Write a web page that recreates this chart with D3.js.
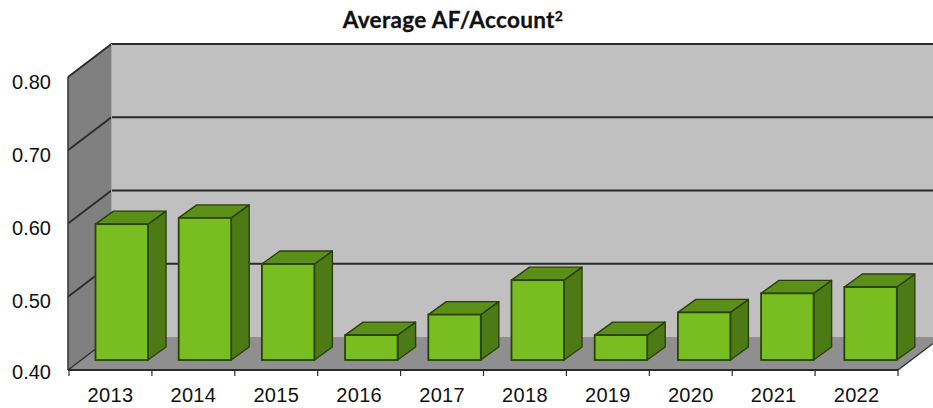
<!DOCTYPE html>
<html><head><meta charset="utf-8">
<script src="https://cdn.jsdelivr.net/npm/d3@7/dist/d3.min.js"></script>
<style>html,body{margin:0;padding:0;background:#fff;overflow:hidden}svg{display:block}</style>
</head><body><svg id="c" width="933" height="408"></svg>
<script>
const categories = ["2013","2014","2015","2016","2017","2018","2019","2020","2021","2022"];
const values = [0.5855,0.594,0.531,0.434,0.462,0.509,0.434,0.465,0.491,0.4996];
const yTicks = [0.40,0.50,0.60,0.70,0.80];
const titleText = "Average AF/Account";

const svg = d3.select("#c");
const x = d3.scaleBand().domain(categories).range([69,898]).paddingInner(0).paddingOuter(0);
const xBars = d3.scaleBand().domain(categories).range([68,900]).paddingInner(0).paddingOuter(0);
const y = d3.scaleLinear().domain([0.4,0.8]).range([370,77]);
const depthX = 43.5, depthY = -33;         // whole-chart depth
const barOff = [12.15,-10], barDepth = [18,-13], barW = 52.5;
const barInset = (xBars.bandwidth()-barW)/2;
const yFloor = y(0.4);
const pts = a => a.map(p=>p.join(",")).join(" ");

// back wall, side wall, floor
const xL = x.range()[0]-1, xR = x.range()[1];
svg.append("polygon").attr("points",pts([[xL+depthX,y(0.8)+depthY],[xR+depthX,y(0.8)+depthY],[xR+depthX,yFloor+depthY],[xL+depthX,yFloor+depthY]]))
  .attr("fill","#c0c0c0");
svg.append("polygon").attr("points",pts([[xL,y(0.8)],[xL+depthX,y(0.8)+depthY],[xL+depthX,yFloor+depthY],[xL,yFloor]]))
  .attr("fill","#808080");
svg.append("polygon").attr("points",pts([[xL,yFloor],[xL+depthX,yFloor+depthY],[xR+depthX,yFloor+depthY],[xR,yFloor]]))
  .attr("fill","#8f8f8f");

// gridlines on walls
yTicks.forEach(t=>{
  const Y = y(t);
  if(t>0.4){
    svg.append("polyline").attr("points",pts([[xL,Y],[xL+depthX,Y+depthY],[xR+depthX,Y+depthY]]))
      .attr("fill","none").attr("stroke","#2b2b2b").attr("stroke-width",1.8);
  }
});
svg.append("line").attr("x1",xL).attr("x2",xL).attr("y1",y(0.8)).attr("y2",yFloor).attr("stroke","#3a3a3a").attr("stroke-width",1.6);
svg.append("line").attr("x1",xL).attr("y1",yFloor).attr("x2",xL+depthX).attr("y2",yFloor+depthY).attr("stroke","#2b2b2b").attr("stroke-width",1.3);
svg.append("line").attr("x1",xR).attr("y1",yFloor).attr("x2",xR+depthX).attr("y2",yFloor+depthY).attr("stroke","#2b2b2b").attr("stroke-width",1.3);
svg.append("line").attr("x1",xL+depthX).attr("x2",xL+depthX).attr("y1",y(0.8)+depthY).attr("y2",yFloor+depthY).attr("stroke","#a8a8a8").attr("stroke-width",1);

// bars
const bars = svg.selectAll("g.bar").data(categories.map((c,i)=>({c,v:values[i]}))).join("g").attr("class","bar");
bars.each(function(d){
  const g = d3.select(this);
  const x0 = xBars(d.c)+barInset+barOff[0], x1 = x0+barW;
  const yB = yFloor+barOff[1], yT = yB-(y(0.4)-y(d.v));
  const dx = barDepth[0], dy = barDepth[1];
  g.append("polygon").attr("points",pts([[x1,yT],[x1+dx,yT+dy],[x1+dx,yB+dy],[x1,yB]]))
    .attr("fill","#4c7a14").attr("stroke","#2b3f0c").attr("stroke-width",1.4).attr("stroke-linejoin","round");
  g.append("polygon").attr("points",pts([[x0,yT],[x0+dx,yT+dy],[x1+dx,yT+dy],[x1,yT]]))
    .attr("fill","#5c8f18").attr("stroke","#2b3f0c").attr("stroke-width",1.4).attr("stroke-linejoin","round");
  g.append("rect").attr("x",x0).attr("y",yT).attr("width",barW).attr("height",yB-yT)
    .attr("fill","#78be20").attr("stroke","#2a430a").attr("stroke-width",1.8);
});

// axes
const axisX = d3.axisBottom(x).tickSize(5).tickPadding(13).tickSizeOuter(0);
const gx = svg.append("g").attr("transform",`translate(0,${yFloor})`).call(axisX);
gx.select(".domain").remove();
gx.append("line").attr("x1",xL).attr("x2",xR).attr("stroke","#2b2b2b").attr("stroke-width",1.8);
gx.selectAll(".tick line").remove();
[...categories.map(c=>x(c)), xR].forEach(px=>{
  gx.append("line").attr("x1",px).attr("x2",px).attr("y1",0).attr("y2",6).attr("stroke","#2b2b2b").attr("stroke-width",1.2);
});
gx.selectAll(".tick text").attr("font-family","'Liberation Sans',Arial,sans-serif").attr("font-size",20).attr("letter-spacing",0.3).attr("fill","#111");

const axisY = d3.axisLeft(y).tickValues(yTicks).tickFormat(d3.format(".2f")).tickSize(0).tickPadding(17);
const gy = svg.append("g").attr("transform",`translate(${xL},0)`).call(axisY);
gy.select(".domain").remove();
gy.selectAll(".tick text").attr("font-family","'Liberation Sans',Arial,sans-serif").attr("font-size",20).attr("fill","#111").attr("dy","0.68em")
  .attr("y",d=>d===0.4?-5:-2.5);

// title
const t = svg.append("text").attr("x",453).attr("y",28).attr("text-anchor","middle")
  .attr("font-family","Lato,'Open Sans',sans-serif").attr("font-weight",700).attr("font-size",22.5).attr("letter-spacing",0.35).attr("fill","#111").attr("stroke","#111").attr("stroke-width",0.3);
t.append("tspan").text(titleText);
t.append("tspan").attr("dy",-7).attr("font-size",14).text("2");
</script></body></html>
